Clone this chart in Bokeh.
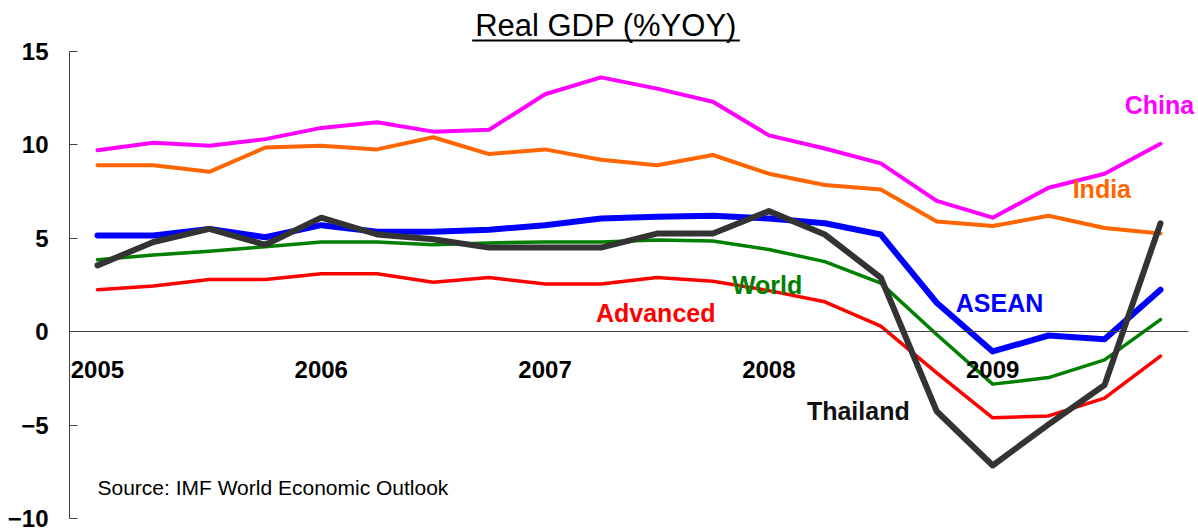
from bokeh.plotting import figure
from bokeh.models import Range1d, FixedTicker, Label, BoxAnnotation, LinearAxis
from bokeh.embed import file_html
from bokeh.resources import INLINE

# ---- data (quarterly, 2005Q1 .. 2009Q4) ----
quarters = list(range(20))
year_ticks = [0, 4, 8, 12, 16]
year_labels = ["2005", "2006", "2007", "2008", "2009"]
y_ticks = [-10, -5, 0, 5, 10, 15]

china = [9.7, 10.1, 9.95, 10.3, 10.9, 11.2, 10.7, 10.8, 12.7, 13.6, 13.0, 12.3, 10.5, 9.8, 9.0, 7.0, 6.1, 7.7, 8.45, 10.05]
india = [8.9, 8.9, 8.55, 9.85, 9.95, 9.75, 10.4, 9.5, 9.75, 9.2, 8.9, 9.45, 8.45, 7.85, 7.6, 5.9, 5.65, 6.2, 5.55, 5.25]
advanced = [2.25, 2.45, 2.8, 2.8, 3.1, 3.1, 2.65, 2.9, 2.55, 2.55, 2.9, 2.7, 2.2, 1.6, 0.3, -2.2, -4.6, -4.5, -3.55, -1.3]
world = [3.85, 4.1, 4.3, 4.55, 4.8, 4.8, 4.65, 4.75, 4.8, 4.8, 4.9, 4.85, 4.4, 3.75, 2.6, -0.15, -2.8, -2.45, -1.5, 0.65]
asean = [5.15, 5.15, 5.5, 5.05, 5.7, 5.35, 5.35, 5.45, 5.7, 6.05, 6.15, 6.2, 6.05, 5.8, 5.2, 1.55, -1.05, -0.2, -0.4, 2.25]
thailand = [3.55, 4.8, 5.5, 4.65, 6.1, 5.2, 4.95, 4.5, 4.5, 4.5, 5.25, 5.25, 6.45, 5.2, 2.9, -4.25, -7.15, -4.95, -2.85, 5.8]

FONT = "Liberation Sans"

p = figure(width=1198, height=528, output_backend="svg", toolbar_location=None,
           x_range=Range1d(-0.5, 19.679), y_range=Range1d(-10.519, 17.711),
           x_axis_location=None, y_axis_location="left",
           min_border_left=69, min_border_right=0, min_border_top=0, min_border_bottom=0,
           background_fill_color="white", border_fill_color="white")
p.outline_line_color = None
p.grid.visible = False

# y axis
ya = p.yaxis[0]
ya.ticker = FixedTicker(ticks=y_ticks)
ya.bounds = (-10, 15)
ya.axis_line_color = "#404040"
ya.axis_line_width = 1
ya.major_tick_in = 8
ya.major_tick_out = 0
ya.minor_tick_line_color = None
ya.major_tick_line_color = "#404040"
ya.major_label_text_font = FONT
ya.major_label_text_font_style = "bold"
ya.major_label_text_font_size = "24px"
ya.major_label_text_color = "black"
ya.major_label_standoff = 21

# x axis crossing at zero
xa = LinearAxis(fixed_location=0)
xa.ticker = FixedTicker(ticks=year_ticks)
xa.bounds = (-0.5, 19.5)
xa.major_label_overrides = {t: l for t, l in zip(year_ticks, year_labels)}
xa.axis_line_color = "#404040"
xa.axis_line_width = 1
xa.major_tick_line_color = None
xa.minor_tick_line_color = None
xa.major_label_text_font = FONT
xa.major_label_text_font_style = "bold"
xa.major_label_text_font_size = "24px"
xa.major_label_text_color = "black"
xa.major_label_standoff = 23
p.add_layout(xa, "below")

# lines
series = [
    (china, "#FF00FF", 4),
    (india, "#FF6600", 4),
    (advanced, "#FF0000", 3.5),
    (world, "#008000", 3.5),
    (asean, "#0000FF", 6),
    (thailand, "#333333", 6),
]
for ys, col, w in series:
    p.line(quarters, ys, line_color=col, line_width=w, line_join="round", line_cap="round")

# series labels
labels = [
    ("China", 18.36, 12.1, "#FF00FF"),
    ("India", 17.43, 7.61, "#FF6600"),
    ("ASEAN", 15.34, 1.54, "#0000FF"),
    ("World", 11.34, 2.48, "#008000"),
    ("Advanced", 8.91, 1.0, "#FF0000"),
    ("Thailand", 12.68, -4.25, "#111111"),
]
for txt, x, y, col in labels:
    p.add_layout(Label(x=x, y=y, text=txt, text_color=col, text_font=FONT,
                       text_font_style="bold", text_font_size="25px",
                       text_baseline="middle", text_align="left"))

# title with underline
p.add_layout(Label(x=9.09, y=16.37, text="Real GDP (%YOY)", text_color="black",
                   text_font=FONT, text_font_size="31px",
                   text_baseline="middle", text_align="center"))
p.add_layout(BoxAnnotation(left=6.696, right=11.48, top=15.62, bottom=15.52,
                           fill_color="black", fill_alpha=1, line_color=None))

# source
p.add_layout(Label(x=0.0, y=-8.35, text="Source: IMF World Economic Outlook", text_color="black",
                   text_font=FONT, text_font_size="21px",
                   text_baseline="middle", text_align="left"))

open("out.html", "w").write(file_html(p, INLINE))
